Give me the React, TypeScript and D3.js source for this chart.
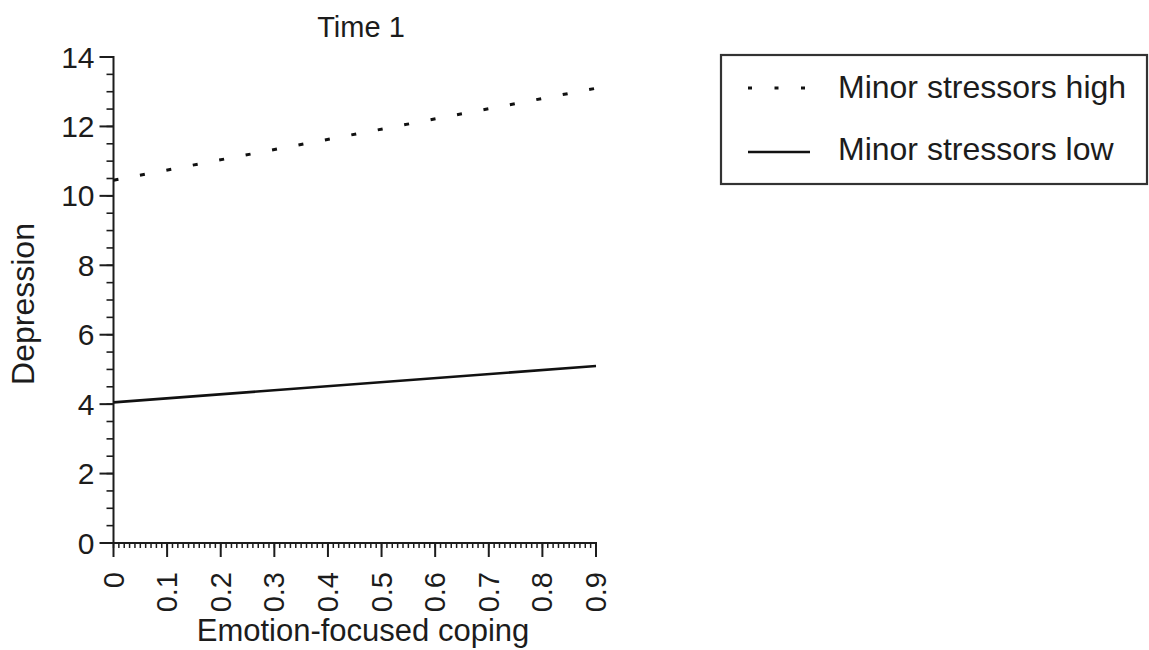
import React from 'react';
import * as d3 from 'd3';

// values
const copingLevels = [0, 0.9];
const stressorsHigh = [10.45, 13.1];
const stressorsLow = [4.05, 5.1];
const xTickValues = [0, 0.1, 0.2, 0.3, 0.4, 0.5, 0.6, 0.7, 0.8, 0.9];
const yTickValues = [0, 2, 4, 6, 8, 10, 12, 14];
const legendLabels = ['Minor stressors high', 'Minor stressors low'];

const width = 1149;
const height = 650;
const font = '"Liberation Sans", Arial, Helvetica, sans-serif';
const ink = '#1c1c1c';

const App: React.FC = () => {
  // scales
  const x = d3.scaleLinear().domain([0, 0.9]).range([113.5, 596]);
  const y = d3.scaleLinear().domain([0, 14]).range([543, 57]);

  const line = d3.line<number>()
    .x((_, i) => x(copingLevels[i]))
    .y(d => y(d));

  // minor ticks
  const xMinor = d3.range(0, 91).map(i => i / 100);
  const yMinor = d3.range(0, 29).map(i => i / 2);

  return (
    <svg
      width={width}
      height={height}
      viewBox={`0 0 ${width} ${height}`}
      style={{ position: 'absolute', left: 0, top: 0, background: '#fff' }}
      fontFamily={font}
    >
      <rect width={width} height={height} fill="#fff" />

      {/* title */}
      <text x={361} y={37} textAnchor="middle" fontSize={29} fill={ink}>Time 1</text>

      {/* y axis */}
      <line x1={x(0)} x2={x(0)} y1={y(14) - 1} y2={y(0)} stroke={ink} strokeWidth={2} />
      {yMinor.map(v => (
        <line key={'ym' + v} x1={x(0) - 7} x2={x(0)} y1={y(v)} y2={y(v)} stroke={ink} strokeWidth={1.6} />
      ))}
      {yTickValues.map(v => (
        <g key={'yt' + v}>
          <line x1={x(0) - 14} x2={x(0)} y1={y(v)} y2={y(v)} stroke={ink} strokeWidth={2} />
          <text x={x(0) - 19} y={y(v)} textAnchor="end" dominantBaseline="central" fontSize={30} fill={ink}>
            {v}
          </text>
        </g>
      ))}
      <text
        transform={`translate(34, 304) rotate(-90)`}
        textAnchor="middle"
        fontSize={32}
        fill={ink}
      >
        Depression
      </text>

      {/* x axis */}
      <line x1={x(0)} x2={x(0.9) + 1} y1={y(0)} y2={y(0)} stroke={ink} strokeWidth={2} />
      {xMinor.map(v => (
        <line key={'xm' + v} x1={x(v)} x2={x(v)} y1={y(0)} y2={y(0) + 5} stroke={ink} strokeWidth={1.5} />
      ))}
      {xTickValues.map(v => (
        <g key={'xt' + v}>
          <line x1={x(v)} x2={x(v)} y1={y(0)} y2={y(0) + 14} stroke={ink} strokeWidth={2} />
          <text
            transform={`translate(${x(v)}, ${y(0) + 29}) rotate(-90)`}
            textAnchor="end"
            dominantBaseline="central"
            fontSize={29}
            fill={ink}
          >
            {v === 0 ? '0' : v.toFixed(1)}
          </text>
        </g>
      ))}
      <text x={363} y={641} textAnchor="middle" fontSize={31} fill={ink}>Emotion-focused coping</text>

      {/* series */}
      <path
        d={line(stressorsHigh) || ''}
        fill="none"
        stroke="#111"
        strokeWidth={3}
        strokeDasharray="5 21.9"
      />
      <path d={line(stressorsLow) || ''} fill="none" stroke="#111" strokeWidth={2.6} />

      {/* legend */}
      <rect x={721} y={55} width={426} height={129} fill="#fff" stroke="#333" strokeWidth={2.2} />
      <line x1={748} x2={810} y1={88} y2={88} stroke="#111" strokeWidth={3} strokeDasharray="4 22.5" />
      <text x={838} y={98} fontSize={32} fill={ink}>{legendLabels[0]}</text>
      <line x1={748} x2={810} y1={152} y2={152} stroke="#111" strokeWidth={2.6} />
      <text x={838} y={160} fontSize={32} fill={ink}>{legendLabels[1]}</text>
    </svg>
  );
};

export default App;
